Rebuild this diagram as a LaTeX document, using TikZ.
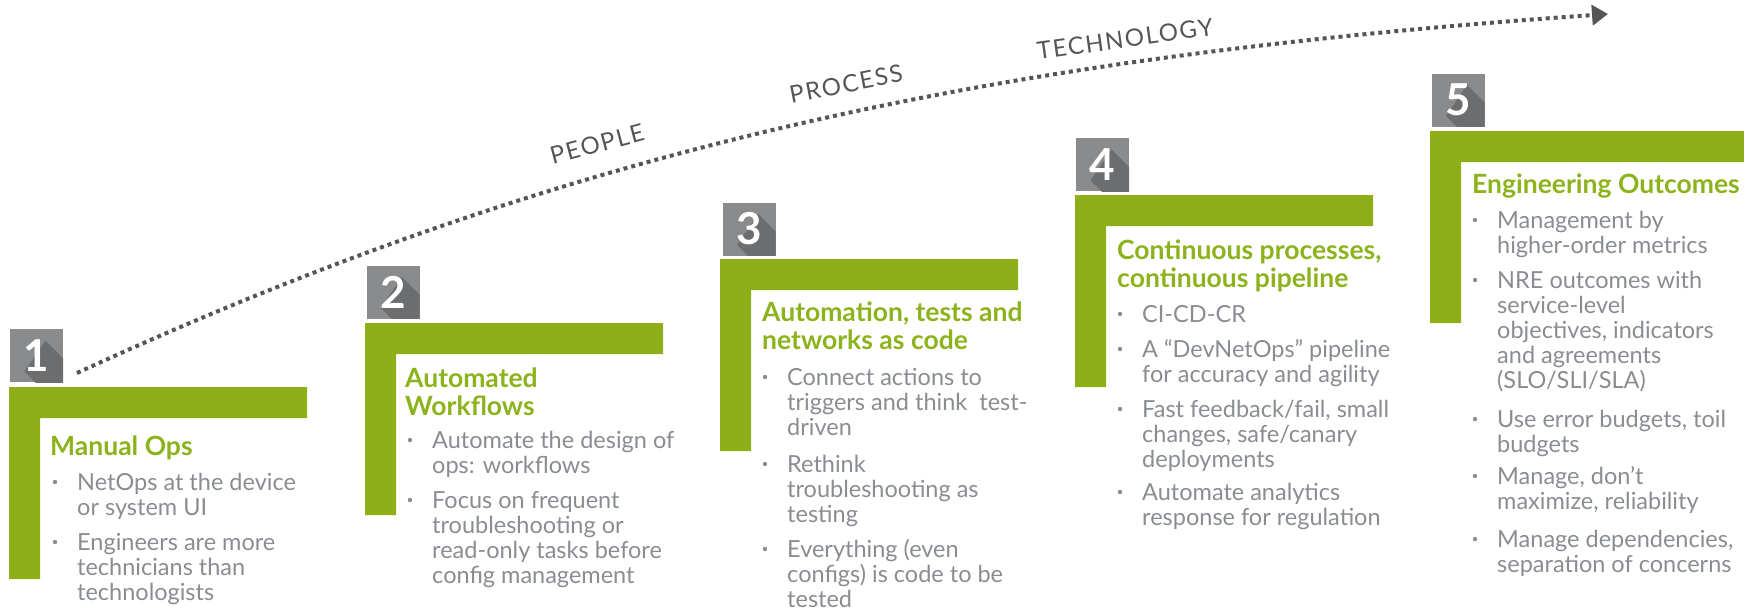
\documentclass[tikz,border=0pt]{standalone}
\usepackage{fontspec}
\setmainfont{Lato}
\usetikzlibrary{arrows.meta}
\definecolor{stepgreen}{RGB}{142,175,23}
\definecolor{titlegreen}{RGB}{140,178,28}
\definecolor{textgray}{RGB}{137,140,145}
\definecolor{badgegray}{RGB}{138,139,140}
\definecolor{shadowgray}{RGB}{108,109,110}
\definecolor{flowgray}{RGB}{85,85,85}
\begin{document}
\begin{tikzpicture}[x=1pt,y=-1pt,
    badge/.style={fill=badgegray,text=white,minimum size=53pt,inner sep=0pt,
      font=\bfseries\fontsize{44}{44}\selectfont,
      path picture={\fill[shadowgray] ([shift={(9pt,15pt)}]path picture bounding box.center)
        -- ++(50pt,-50pt) -- ++(-21pt,-31pt) -- ++(-50pt,50pt) -- cycle;}},
    title/.style={anchor=base west,inner sep=0pt,align=left,text=titlegreen,
      font=\bfseries\fontsize{26.5}{28}\selectfont},
    item/.style={anchor=base west,inner sep=0pt,align=left,text=textgray,
      font=\fontsize{23.5}{25}\selectfont},
    flow/.style={inner sep=0pt,text=flowgray,
      font=\fontsize{24}{24}\selectfont\addfontfeatures{LetterSpace=7}}]
  \useasboundingbox (0,0) rectangle (1744,611);

  \coordinate (start) at (77,373);
  \coordinate (end) at (1608,14);
  \draw[flowgray,line width=4pt,dash pattern=on 4pt off 4pt,-{Triangle[length=16pt,width=20pt]}]
    (start) .. controls (577,143) and (1005,56) .. (end);
  \node[flow,rotate=15] (people) at (597,144) {PEOPLE};
  \node[flow,rotate=11] (process) at (846,84) {PROCESS};
  \node[flow,rotate=8] (technology) at (1125,39) {TECHNOLOGY};

  \fill[stepgreen] (9,387) -- (307,387) -- (307,418) -- (40,418) -- (40,579) -- (9,579) -- cycle;
  \fill[stepgreen] (365,323) -- (663,323) -- (663,354) -- (396,354) -- (396,515) -- (365,515) -- cycle;
  \fill[stepgreen] (720,259) -- (1018,259) -- (1018,290) -- (751,290) -- (751,451) -- (720,451) -- cycle;
  \fill[stepgreen] (1075,195) -- (1373,195) -- (1373,226) -- (1106,226) -- (1106,387) -- (1075,387) -- cycle;
  \fill[stepgreen] (1430,131) -- (1744,131) -- (1744,162) -- (1461,162) -- (1461,323) -- (1430,323) -- cycle;

  \node[badge] (b1) at (36.5,355.5) {1};
  \node[badge] (b2) at (393,292) {2};
  \node[badge] (b3) at (749,229) {3};
  \node[badge] (b4) at (1102.5,164.5) {4};
  \node[badge] (b5) at (1458,100) {5};

  \node[title] (t1) at (50,455) {Manual Ops};
  \node[item] (i11) at (77,515) {NetOps at the device\\or system UI};
  \node[item] (i12) at (77,600) {Engineers are more\\technicians than\\technologists};

  \node[title] (t2) at (405,415) {Automated\\Workflows};
  \node[item] (i21) at (432,473) {Automate the design of\\ops: workflows};
  \node[item] (i22) at (432,583) {Focus on frequent\\troubleshooting or\\read-only tasks before\\config management};

  \node[title] (t3) at (762,349) {Automation, tests and\\networks as code};
  \node[item] (i31) at (787,435) {Connect actions to\\triggers and think\ \ test-\\driven};
  \node[item] (i32) at (787,522) {Rethink\\troubleshooting as\\testing};
  \node[item] (i33) at (787,607) {Everything (even\\configs) is code to be\\tested};

  \node[title] (t4) at (1117,287) {Continuous processes,\\continuous pipeline};
  \node[item] (i41) at (1142,322) {CI-CD-CR};
  \node[item] (i42) at (1142,382) {A “DevNetOps” pipeline\\for accuracy and agility};
  \node[item] (i43) at (1142,467) {Fast feedback/fail, small\\changes, safe/canary\\deployments};
  \node[item] (i44) at (1142,525) {Automate analytics\\response for regulation};

  \node[title] (t5) at (1472,193) {Engineering Outcomes};
  \node[item] (i51) at (1497,253) {Management by\\higher-order metrics};
  \node[item] (i52) at (1497,388) {NRE outcomes with\\service-level\\objectives, indicators\\and agreements\\(SLO/SLI/SLA)};
  \node[item] (i53) at (1497,452) {Use error budgets, toil\\budgets};
  \node[item] (i54) at (1497,509) {Manage, don’t\\maximize, reliability};
  \node[item] (i55) at (1497,572) {Manage dependencies,\\separation of concerns};

  \begin{scope}[textgray]
    \fill (55,482) circle (2.2pt);
    \fill (55,542) circle (2.2pt);
    \fill (410,440) circle (2.2pt);
    \fill (410,500) circle (2.2pt);
    \fill (765,377) circle (2.2pt);
    \fill (765,464) circle (2.2pt);
    \fill (765,549) circle (2.2pt);
    \fill (1120,314) circle (2.2pt);
    \fill (1120,349) circle (2.2pt);
    \fill (1120,409) circle (2.2pt);
    \fill (1120,492) circle (2.2pt);
    \fill (1475,220) circle (2.2pt);
    \fill (1475,280) circle (2.2pt);
    \fill (1475,419) circle (2.2pt);
    \fill (1475,476) circle (2.2pt);
    \fill (1475,539) circle (2.2pt);
  \end{scope}
\end{tikzpicture}
\end{document}
